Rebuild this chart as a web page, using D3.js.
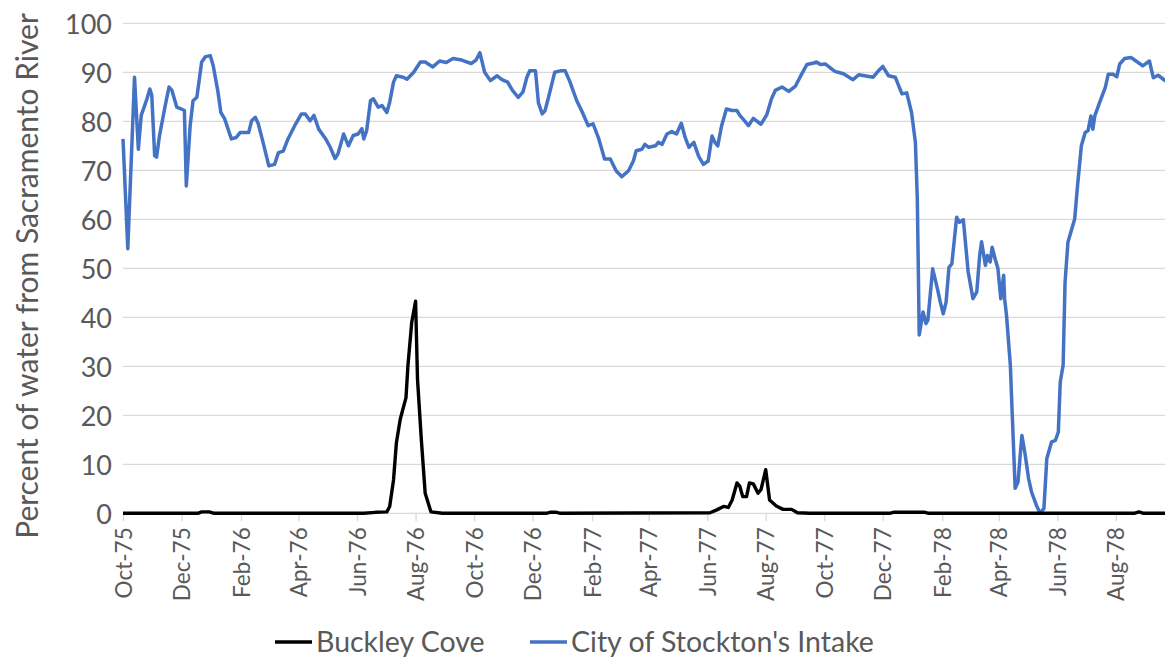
<!DOCTYPE html>
<html><head><meta charset="utf-8">
<script src="https://cdn.jsdelivr.net/npm/d3@7"></script>
<style>body{margin:0;background:#fff} svg{display:block}</style>
</head><body><svg id="c" width="1165" height="659"></svg>
<script>
// ---- data ----
const stocktonDates = ["1975-10-01","1975-10-06","1975-10-13","1975-10-17","1975-10-20","1975-10-26","1975-10-29","1975-10-31","1975-11-03","1975-11-05","1975-11-08","1975-11-14","1975-11-18","1975-11-21","1975-11-26","1975-12-01","1975-12-04","1975-12-06","1975-12-10","1975-12-13","1975-12-17","1975-12-22","1975-12-26","1975-12-31","1976-01-03","1976-01-08","1976-01-11","1976-01-15","1976-01-22","1976-01-27","1976-01-31","1976-02-09","1976-02-12","1976-02-16","1976-02-19","1976-02-24","1976-03-01","1976-03-07","1976-03-11","1976-03-16","1976-03-21","1976-03-28","1976-04-04","1976-04-08","1976-04-13","1976-04-17","1976-04-22","1976-04-29","1976-05-04","1976-05-09","1976-05-12","1976-05-18","1976-05-23","1976-05-28","1976-06-02","1976-06-06","1976-06-08","1976-06-11","1976-06-15","1976-06-18","1976-06-23","1976-06-27","1976-07-02","1976-07-05","1976-07-09","1976-07-12","1976-07-19","1976-07-23","1976-07-30","1976-08-06","1976-08-11","1976-08-19","1976-08-26","1976-09-02","1976-09-09","1976-09-18","1976-09-28","1976-10-03","1976-10-07","1976-10-12","1976-10-18","1976-10-25","1976-10-30","1976-11-05","1976-11-10","1976-11-16","1976-11-21","1976-11-25","1976-11-28","1976-12-04","1976-12-07","1976-12-11","1976-12-14","1976-12-19","1976-12-24","1976-12-30","1977-01-04","1977-01-09","1977-01-16","1977-01-21","1977-01-28","1977-02-02","1977-02-08","1977-02-14","1977-02-20","1977-02-26","1977-03-04","1977-03-11","1977-03-16","1977-03-19","1977-03-25","1977-03-28","1977-04-01","1977-04-08","1977-04-11","1977-04-15","1977-04-20","1977-04-25","1977-04-30","1977-05-05","1977-05-09","1977-05-13","1977-05-18","1977-05-23","1977-05-28","1977-06-02","1977-06-06","1977-06-09","1977-06-12","1977-06-16","1977-06-21","1977-06-27","1977-07-02","1977-07-05","1977-07-10","1977-07-14","1977-07-19","1977-07-27","1977-08-02","1977-08-07","1977-08-11","1977-08-18","1977-08-25","1977-09-01","1977-09-06","1977-09-13","1977-09-20","1977-09-23","1977-09-27","1977-10-02","1977-10-12","1977-10-21","1977-10-31","1977-11-06","1977-11-12","1977-11-21","1977-11-26","1977-12-01","1977-12-07","1977-12-14","1977-12-21","1977-12-26","1977-12-31","1978-01-04","1978-01-06","1978-01-07","1978-01-08","1978-01-12","1978-01-15","1978-01-17","1978-01-22","1978-01-27","1978-01-30","1978-02-02","1978-02-05","1978-02-08","1978-02-11","1978-02-16","1978-02-19","1978-02-23","1978-02-28","1978-03-05","1978-03-09","1978-03-12","1978-03-14","1978-03-18","1978-03-20","1978-03-23","1978-03-25","1978-03-28","1978-03-31","1978-04-03","1978-04-06","1978-04-07","1978-04-09","1978-04-13","1978-04-15","1978-04-18","1978-04-21","1978-04-25","1978-04-28","1978-05-02","1978-05-05","1978-05-10","1978-05-14","1978-05-18","1978-05-21","1978-05-26","1978-05-30","1978-06-02","1978-06-04","1978-06-07","1978-06-09","1978-06-12","1978-06-16","1978-06-19","1978-06-22","1978-06-26","1978-06-30","1978-07-03","1978-07-06","1978-07-08","1978-07-10","1978-07-15","1978-07-21","1978-07-24","1978-07-29","1978-08-02","1978-08-05","1978-08-10","1978-08-17","1978-08-22","1978-08-29","1978-09-05","1978-09-09","1978-09-14","1978-09-22"];
const stocktonValues = [76.4,54,89,74.3,81.2,84.6,86.6,85.3,73,72.7,77,83.2,87,86.3,82.9,82.5,82.2,66.8,79.1,84.2,84.9,92.1,93.2,93.4,91.4,86,81.8,80.5,76.4,76.7,77.7,77.7,80.1,80.8,79.5,75.7,70.9,71.2,73.6,73.9,76.4,79.1,81.5,81.5,80.1,81.2,78.4,76.5,74.7,72.4,73.3,77.4,75,77.1,77.4,78.5,76.4,78.1,84.2,84.6,82.9,83.2,81.8,83.9,88,89.3,89,88.6,90,92.1,92.1,91.1,92.3,92,92.8,92.5,91.8,92.5,94,90,88.3,89.3,88.5,88,86.3,84.9,86,89,90.3,90.3,83.8,81.5,82.2,86,90,90.3,90.3,88,84.2,82.2,79.1,79.5,76.4,72.3,72.3,69.9,68.7,69.9,71.9,74,74.3,75.3,74.7,75,75.7,75.3,77.4,77.9,77.4,79.6,76.7,74.7,75.7,72.9,71.2,71.9,77,75.7,75,79.1,82.5,82.2,82.2,81.2,80.1,79.1,80.6,79.4,81.3,84.6,86.3,87,86.1,87.2,89.1,91.6,91.9,92.1,91.6,91.7,90.2,89.7,88.5,89.5,89.3,89,90.2,91.2,89.3,89,85.6,85.8,81.8,75.7,64.2,50.6,36.4,41.1,38.7,39.4,49.9,45.8,43.1,40.7,43.1,50.2,50.9,60.4,59.4,59.9,49.3,43.8,45.2,52.6,55.4,50.6,52.6,51.3,54.3,52,50,43.8,48.6,43.8,40.4,30.2,20,5.1,6.4,15.9,12.5,7.1,4.4,1.7,0,1,11.2,14.6,14.9,16.6,26.8,30.2,47.1,55.3,58,60,66.8,75,77.7,78.1,81.1,78.4,81.1,83.8,86.9,89.6,89.6,89.1,91.7,92.8,93,92.3,91.3,92.3,88.9,89.4,88.2];

const buckleyDates = ["1975-10-01","1975-12-18","1975-12-22","1975-12-30","1976-01-04","1976-06-08","1976-06-20","1976-07-02","1976-07-05","1976-07-09","1976-07-12","1976-07-16","1976-07-22","1976-07-24","1976-07-28","1976-08-01","1976-08-03","1976-08-07","1976-08-11","1976-08-17","1976-08-29","1976-12-15","1976-12-19","1976-12-26","1976-12-30","1977-06-04","1977-06-11","1977-06-18","1977-06-23","1977-06-27","1977-07-02","1977-07-05","1977-07-08","1977-07-12","1977-07-15","1977-07-19","1977-07-24","1977-07-27","1977-08-01","1977-08-05","1977-08-12","1977-08-19","1977-08-28","1977-09-03","1977-09-16","1977-12-08","1977-12-12","1978-01-14","1978-01-18","1978-08-20","1978-08-25","1978-08-30","1978-09-22"];
const buckleyValues = [0,0,0.3,0.3,0,0,0.2,0.3,1.4,6.8,14.4,19.2,23.6,30.1,39,43.3,27.4,15,4.1,0.3,0,0,0.2,0.2,0,0.1,0.7,1.4,1.2,2.7,6.2,5.5,3.4,3.4,6.2,6,4.1,4.8,8.9,2.7,1.5,0.8,0.8,0.1,0,0,0.2,0.2,0,0,0.3,0,0];

const xTickLabels = ["Oct-75","Dec-75","Feb-76","Apr-76","Jun-76","Aug-76","Oct-76","Dec-76","Feb-77","Apr-77","Jun-77","Aug-77","Oct-77","Dec-77","Feb-78","Apr-78","Jun-78","Aug-78"];
const yTicks = [0,10,20,30,40,50,60,70,80,90,100];
const seriesNames = ["Buckley Cove","City of Stockton's Intake"];
const seriesColors = ["#000000","#4472C4"];
const yTitle = "Percent of water from Sacramento River";
const xDomain = ["1975-10-01","1978-10-01"];

// ---- drawing ----
const svg = d3.select("#c");
const parse = d3.utcParse("%Y-%m-%d");
const parseTick = d3.utcParse("%b-%y");
const FONT = "Lato, 'Open Sans', sans-serif";
const TXT = "#595959";

const x = d3.scaleUtc().domain(xDomain.map(parse)).range([123, 1174.4]);
const y = d3.scaleLinear().domain([0, 100]).range([513.3, 23.3]);

// gridlines
svg.append("g").selectAll("line").data(yTicks.filter(d => d > 0)).join("line")
  .attr("x1", 123).attr("x2", 1165)
  .attr("y1", d => y(d)).attr("y2", d => y(d))
  .attr("stroke", "#d9d9d9").attr("stroke-width", 1.3);

// x axis
const xAxis = d3.axisBottom(x)
  .tickValues(xTickLabels.map(parseTick))
  .tickFormat(d3.utcFormat("%b-%y"))
  .tickSize(8).tickSizeOuter(0);
const gx = svg.append("g").attr("transform", `translate(0,${y(0)})`).call(xAxis);
gx.select(".domain").attr("stroke", "#d9d9d9").attr("stroke-width", 1.3).attr("d", `M123,0H1165`);
gx.selectAll(".tick line").attr("stroke", "#d9d9d9").attr("stroke-width", 1.3);
gx.selectAll(".tick text")
  .attr("font-family", FONT).attr("font-size", 22.5).attr("fill", TXT)
  .attr("text-anchor", "end")
  .attr("transform", "rotate(-90)")
  .attr("x", -14).attr("y", 0).attr("dy", "0.36em");

// y axis labels
const yAxis = d3.axisLeft(y).tickValues(yTicks).tickSize(0);
const gy = svg.append("g").attr("transform", "translate(112,0)").call(yAxis);
gy.select(".domain").remove();
gy.selectAll(".tick text").attr("font-family", FONT).attr("font-size", 27).attr("fill", TXT)
  .attr("x", 0).attr("dy", "0.36em");

// y title
svg.append("text").attr("transform", "translate(27,276) rotate(-90)")
  .attr("text-anchor", "middle").attr("dy", "0.36em").attr("font-family", FONT).attr("font-size", 30)
  .attr("fill", TXT).text(yTitle);

// lines
const line = d3.line().x(d => x(d[0])).y(d => y(d[1])).curve(d3.curveLinear);
const buckley = buckleyDates.map((d, i) => [parse(d), buckleyValues[i]]);
const stockton = stocktonDates.map((d, i) => [parse(d), stocktonValues[i]]);
svg.append("path").datum(stockton).attr("d", line).attr("fill", "none")
  .attr("stroke", seriesColors[1]).attr("stroke-width", 3.5).attr("stroke-linejoin", "round");
svg.append("path").datum(buckley).attr("d", line).attr("fill", "none")
  .attr("stroke", seriesColors[0]).attr("stroke-width", 3.4).attr("stroke-linejoin", "round");

// legend
const legX = [275, 530];
const lg = svg.append("g").selectAll("g").data(seriesNames).join("g")
  .attr("transform", (d, i) => `translate(${legX[i]},642)`);
lg.append("line").attr("x1", 0).attr("x2", 37).attr("stroke", (d, i) => seriesColors[i]).attr("stroke-width", 3.5);
lg.append("text").attr("x", 41).attr("y", 9.5).attr("font-family", FONT).attr("font-size", 28.5)
  .attr("fill", TXT).text(d => d);
</script>
</body></html>
